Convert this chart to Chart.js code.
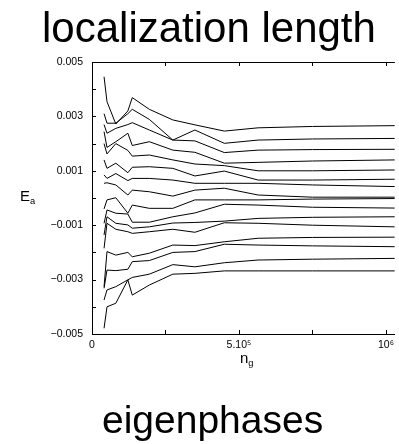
<!DOCTYPE html>
<html>
<head>
<meta charset="utf-8">
<script src="https://cdn.jsdelivr.net/npm/chart.js@4.4.0/dist/chart.umd.min.js"></script>
<style>
  html, body { margin: 0; padding: 0; background: #fff; }
  #wrap { position: relative; width: 399px; height: 444px; overflow: hidden;
          font-family: "Liberation Sans", Arial, sans-serif; color: #000; }
  #chart { position: absolute; left: 0; top: 0; }
  .lbl { position: absolute; white-space: nowrap; line-height: 1; }
  .lbl sub { font-size: 0.62em; vertical-align: baseline; position: relative; top: 0.35em; }
</style>
</head>
<body>
<div id="wrap">
  <canvas id="chart" width="399" height="444"></canvas>
  <div class="lbl" style="left:42px; top:7px; font-size:42px;">localization length</div>
  <div class="lbl" style="left:20px; top:188px; font-size:15px;">E<sub>a</sub></div>
  <div class="lbl" style="left:240px; top:350px; font-size:15px;">n<sub>g</sub></div>
  <div class="lbl" style="left:102px; top:400px; font-size:39px;">eigenphases</div>
</div>
<script>
// ---- data (E_a in units of 1e-3) ----
const ng = [4.1e4, 5.1e4, 8.1e4, 1.22e5, 1.37e5, 1.95e5, 2.75e5, 3.5e5, 4.5e5, 5.65e5, 7.5e5, 1.03e6];

const e1  = [4.46, 3.54, 2.72, 3.20, 3.69, 3.26, 2.87, 2.69, 2.46, 2.58, 2.63, 2.66];
const e2  = [3.10, 2.75, 2.75, 3.10, 3.26, 2.89, 2.13, 2.50, 2.01, 2.13, 2.17, 2.19];
const e3  = [2.70, 2.38, 2.56, 2.70, 2.77, 2.50, 2.13, 2.10, 1.67, 1.76, 1.78, 1.79];
const e4  = [2.44, 1.86, 2.07, 2.38, 1.93, 2.07, 1.76, 1.68, 1.28, 1.31, 1.36, 1.40];
const e5  = [2.00, 1.62, 2.00, 1.75, 1.54, 1.58, 1.40, 1.25, 1.19, 1.00, 1.00, 1.03];
const e6  = [1.40, 1.09, 1.28, 0.93, 1.13, 1.15, 1.09, 0.81, 0.99, 0.66, 0.66, 0.69];
const e7  = [0.85, 0.72, 0.90, 0.64, 0.72, 0.72, 0.66, 0.54, 0.54, 0.54, 0.48, 0.42];
const e8  = [0.54, 0.56, 0.48, 0.11, 0.29, 0.23, 0.07, 0.29, 0.36, 0.11, 0.03, 0.03];
const e9  = [-0.40, -0.07, 0.01, -0.56, -0.26, -0.38, -0.38, -0.07, -0.07, -0.07, -0.04, -0.02];
const e10 = [-0.93, -0.44, -0.56, -0.59, -0.89, -0.89, -0.69, -0.55, -0.23, -0.26, -0.34, -0.37];
const e11 = [-1.36, -0.69, -0.93, -0.99, -1.11, -1.06, -0.92, -0.90, -0.85, -0.75, -0.71, -0.69];
const e12 = [-1.85, -0.93, -1.15, -1.24, -1.30, -1.24, -1.15, -1.26, -0.91, -0.93, -1.00, -1.06];
const e13 = [-3.26, -1.97, -2.10, -2.00, -2.16, -2.03, -1.73, -1.75, -1.61, -1.48, -1.45, -1.44];
const e14 = [-3.32, -2.65, -2.67, -2.62, -2.34, -2.30, -2.00, -1.97, -1.70, -1.73, -1.76, -1.79];
const e15 = [-3.75, -3.38, -3.26, -3.01, -2.92, -2.80, -2.45, -2.53, -2.38, -2.28, -2.25, -2.22];
const e16 = [-4.79, -4.00, -3.87, -3.01, -3.57, -3.20, -2.80, -2.77, -2.68, -2.68, -2.68, -2.68];

const xTicks = [0, 2.5e5, 5e5, 7.5e5, 1e6];
const xTickLabels = ["0", "", "5.10\u2075", "", "10\u2076"];

const lines = [e1, e2, e3, e4, e5, e6, e7, e8, e9, e10, e11, e12, e13, e14, e15, e16];

// inward ticks + top frame line
const frameTicks = {
    id: "frameTicks",
    afterDraw(chart) {
        const { ctx, chartArea: a, scales: { x, y } } = chart;
        ctx.save();
        ctx.strokeStyle = "#000";
        ctx.lineWidth = 1;
        ctx.beginPath();
        ctx.moveTo(a.left, a.top + 0.5);
        ctx.lineTo(a.right, a.top + 0.5);
        x.ticks.forEach(t => {
            const px = Math.round(x.getPixelForValue(t.value)) + 0.5;
            ctx.moveTo(px, a.bottom);
            ctx.lineTo(px, a.bottom - 4);
            ctx.moveTo(px, a.top);
            ctx.lineTo(px, a.top + 4);
        });
        y.ticks.forEach(t => {
            const py = Math.round(y.getPixelForValue(t.value)) + 0.5;
            ctx.moveTo(a.left, py);
            ctx.lineTo(a.left + 4, py);
        });
        ctx.stroke();
        ctx.restore();
    }
};

const tickFont = { family: "Liberation Sans", size: 10.5 };

new Chart(document.getElementById("chart"), {
    type: "line",
    data: {
        datasets: lines.map(v => ({
            data: ng.map((n, i) => ({ x: n, y: v[i] * 1e-3 })),
            borderColor: "#000",
            borderWidth: 1,
            pointRadius: 0,
            fill: false,
            tension: 0
        }))
    },
    options: {
        responsive: false,
        animation: false,
        layout: { padding: { top: 62, left: 0, right: 0, bottom: 0 } },
        plugins: { legend: { display: false }, tooltip: { enabled: false } },
        scales: {
            x: {
                type: "linear",
                min: 0,
                max: 1.03e6,
                grid: { display: false, drawTicks: false },
                border: { display: true, color: "#000", width: 1 },
                afterBuildTicks: s => { s.ticks = xTicks.map(v => ({ value: v })); },
                afterFit: s => { s.height = 110; },
                ticks: {
                    autoSkip: false,
                    maxRotation: 0,
                    padding: 5,
                    color: "#000",
                    font: tickFont,
                    callback: (v, i) => xTickLabels[i]
                }
            },
            y: {
                min: -0.005,
                max: 0.005,
                grid: { display: false, drawTicks: false },
                border: { display: true, color: "#000", width: 1 },
                afterFit: s => { s.width = 92; },
                ticks: {
                    stepSize: 0.001,
                    padding: 9,
                    color: "#000",
                    font: tickFont,
                    callback: v => {
                        const k = Math.round(v * 1000);
                        if (k % 2 === 0) return "";
                        return (k < 0 ? "\u2212" : "") + (Math.abs(k) / 1000).toFixed(3);
                    }
                }
            }
        }
    },
    plugins: [frameTicks]
});
</script>
</body>
</html>
